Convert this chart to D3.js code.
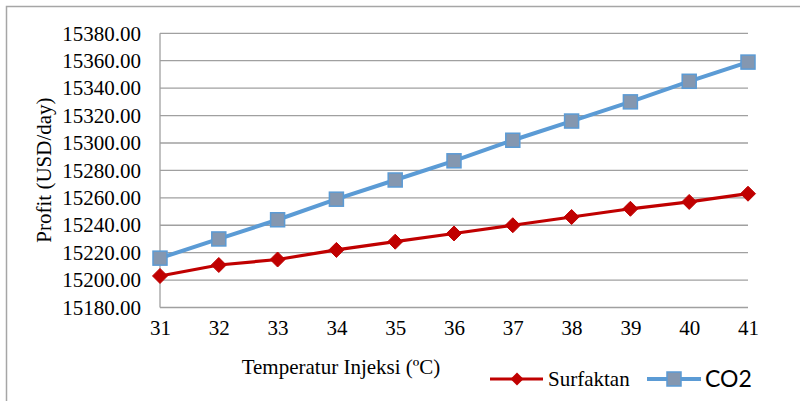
<!DOCTYPE html>
<html>
<head>
<meta charset="utf-8">
<script src="https://cdn.jsdelivr.net/npm/d3@7"></script>
<style>
  html, body { margin: 0; padding: 0; background: #fff; }
  svg { display: block; }
</style>
</head>
<body>
<svg id="chart" width="800" height="401"></svg>
<script>
// Injection temperature (°C) and profit (USD/day) per scenario
const temperatures = [31, 32, 33, 34, 35, 36, 37, 38, 39, 40, 41];
const surfaktan = [15203, 15211, 15215, 15222, 15228, 15234, 15240, 15246, 15252, 15257, 15263];
const co2 = [15216, 15230, 15244, 15259, 15273, 15287, 15302, 15316, 15330, 15345, 15359];
const yTicks = [15180, 15200, 15220, 15240, 15260, 15280, 15300, 15320, 15340, 15360, 15380];
const seriesNames = ["Surfaktan", "CO2"];

const svg = d3.select("#chart");
const serif = "'Liberation Serif', 'Times New Roman', serif";
const fs = 21;

// chart-area border
svg.append("rect")
  .attr("x", 6.5).attr("y", 6.5)
  .attr("width", 820).attr("height", 420)
  .attr("fill", "none").attr("stroke", "#a6a6a6").attr("stroke-width", 1.5);

const plot = { left: 160, right: 748, top: 33.3, bottom: 307.5 };

const x = d3.scaleLinear().domain([31, 41]).range([plot.left, plot.right]);
const y = d3.scaleLinear().domain([15180, 15380]).range([plot.bottom, plot.top]);

// horizontal gridlines
svg.append("g")
  .selectAll("line")
  .data(yTicks)
  .join("line")
  .attr("x1", plot.left).attr("x2", plot.right)
  .attr("y1", d => y(d)).attr("y2", d => y(d))
  .attr("stroke", "#a0a0a0").attr("stroke-width", 1.3);

// vertical axis line
svg.append("line")
  .attr("x1", plot.left).attr("x2", plot.left)
  .attr("y1", plot.top).attr("y2", plot.bottom)
  .attr("stroke", "#a0a0a0").attr("stroke-width", 1.3);

// y axis labels
const yAxis = d3.axisLeft(y).tickValues(yTicks).tickFormat(d3.format(".2f")).tickSize(0).tickPadding(19);
const gy = svg.append("g").attr("transform", `translate(${plot.left},0)`).call(yAxis);
gy.select(".domain").remove();
gy.selectAll("text")
  .attr("font-family", serif).attr("font-size", fs).attr("fill", "#000");

// x axis labels
const xAxis = d3.axisBottom(x).tickValues(temperatures).tickFormat(d3.format("d")).tickSize(0).tickPadding(13);
const gx = svg.append("g").attr("transform", `translate(0,${plot.bottom})`).call(xAxis);
gx.select(".domain").remove();
gx.selectAll("text")
  .attr("font-family", serif).attr("font-size", fs).attr("fill", "#000");

// axis titles
svg.append("text")
  .attr("transform", "translate(51,170) rotate(-90)")
  .attr("text-anchor", "middle")
  .attr("font-family", serif).attr("font-size", fs).attr("fill", "#000")
  .text("Profit (USD/day)");

svg.append("text")
  .attr("x", 341).attr("y", 374)
  .attr("text-anchor", "middle")
  .attr("font-family", serif).attr("font-size", fs).attr("fill", "#000")
  .text("Temperatur Injeksi (ºC)");

const redColor = "#c00000";
const blueColor = "#5b9bd5";
const squareFill = "#8497b0";

const line = d3.line().x((d, i) => x(temperatures[i])).y(d => y(d));

// CO2 series
svg.append("path")
  .datum(co2)
  .attr("d", line)
  .attr("fill", "none").attr("stroke", blueColor).attr("stroke-width", 4)
  .attr("stroke-linejoin", "round");

// Surfaktan series
svg.append("path")
  .datum(surfaktan)
  .attr("d", line)
  .attr("fill", "none").attr("stroke", redColor).attr("stroke-width", 3.2)
  .attr("stroke-linejoin", "round");

const diamond = s => `M0,${-s}L${s},0L0,${s}L${-s},0Z`;

svg.append("g")
  .selectAll("path")
  .data(surfaktan)
  .join("path")
  .attr("transform", (d, i) => `translate(${x(temperatures[i])},${y(d)})`)
  .attr("d", diamond(7.5))
  .attr("fill", redColor).attr("stroke", redColor).attr("stroke-width", 1);

svg.append("g")
  .selectAll("rect")
  .data(co2)
  .join("rect")
  .attr("x", (d, i) => x(temperatures[i]) - 7)
  .attr("y", d => y(d) - 7)
  .attr("width", 14).attr("height", 14)
  .attr("fill", squareFill).attr("stroke", blueColor).attr("stroke-width", 1.5);

// legend
const legY = 379;
const leg = svg.append("g");
leg.append("line")
  .attr("x1", 490).attr("x2", 543).attr("y1", legY).attr("y2", legY)
  .attr("stroke", redColor).attr("stroke-width", 3.2);
leg.append("path")
  .attr("transform", `translate(517,${legY})`)
  .attr("d", diamond(6.5))
  .attr("fill", redColor);
leg.append("text")
  .attr("x", 548).attr("y", 386)
  .attr("font-family", serif).attr("font-size", fs).attr("fill", "#000")
  .text(seriesNames[0]);

leg.append("line")
  .attr("x1", 647).attr("x2", 701).attr("y1", legY).attr("y2", legY)
  .attr("stroke", blueColor).attr("stroke-width", 4);
leg.append("rect")
  .attr("x", 667).attr("y", legY - 7).attr("width", 14).attr("height", 14)
  .attr("fill", squareFill).attr("stroke", blueColor).attr("stroke-width", 1.5);
leg.append("text")
  .attr("x", 705).attr("y", 387)
  .attr("font-family", "Lato, 'Open Sans', sans-serif").attr("font-size", 23).attr("fill", "#000")
  .text(seriesNames[1]);
</script>
</body>
</html>
